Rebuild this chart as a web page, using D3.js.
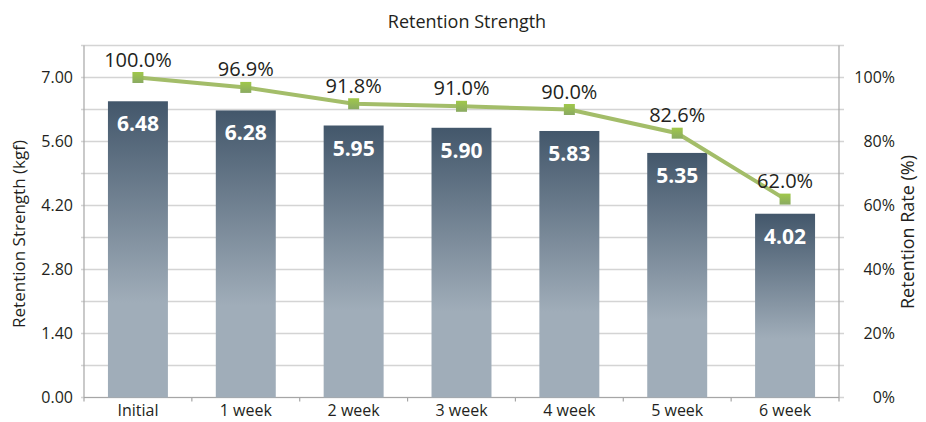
<!DOCTYPE html>
<html>
<head>
<meta charset="utf-8">
<script src="https://cdn.jsdelivr.net/npm/d3@7"></script>
<style>
  html, body { margin: 0; padding: 0; background: #fff; }
  svg { display: block; font-family: "Open Sans", "Noto Sans", sans-serif; }
</style>
</head>
<body>
<svg id="chart" width="926" height="422"></svg>
<script>
const categories = ["Initial", "1 week", "2 week", "3 week", "4 week", "5 week", "6 week"];
const strengthValues = [6.48, 6.28, 5.95, 5.90, 5.83, 5.35, 4.02];
const rateValues = [100.0, 96.9, 91.8, 91.0, 90.0, 82.6, 62.0];
const leftTicks = [0, 1.4, 2.8, 4.2, 5.6, 7.0];
const gridValues = [0, 0.7, 1.4, 2.1, 2.8, 3.5, 4.2, 4.9, 5.6, 6.3, 7.0, 7.7];
const rightTicks = [0, 20, 40, 60, 80, 100];

const svg = d3.select("#chart");
const m = { left: 84, right: 839, top: 45.5, bottom: 397.5 };
const textColor = "#231f20";

const x = d3.scaleBand().domain(categories).range([m.left, m.right]).paddingInner(0.444).paddingOuter(0.222);
const y = d3.scaleLinear().domain([0, 7.7]).range([m.bottom, m.top]);
const y2 = d3.scaleLinear().domain([0, 110]).range([m.bottom, m.top]);

// gradients
const defs = svg.append("defs");
const g1 = defs.append("linearGradient").attr("id", "barGrad").attr("x1", 0).attr("y1", 0).attr("x2", 0).attr("y2", 1);
g1.append("stop").attr("offset", "0%").attr("stop-color", "#43576b");
g1.append("stop").attr("offset", "68%").attr("stop-color", "#a0adb9");
g1.append("stop").attr("offset", "100%").attr("stop-color", "#a0adb9");
const g2 = defs.append("linearGradient").attr("id", "mkGrad").attr("x1", 0).attr("y1", 0).attr("x2", 0).attr("y2", 1);
g2.append("stop").attr("offset", "0%").attr("stop-color", "#a0c84a");
g2.append("stop").attr("offset", "100%").attr("stop-color", "#8aaa62");

// gridlines
svg.append("g").selectAll("line").data(gridValues).join("line")
  .attr("x1", m.left - 3).attr("x2", m.right + 5)
  .attr("y1", d => y(d)).attr("y2", d => y(d))
  .attr("stroke", "#d4d4d4").attr("stroke-width", 1.3);

// axes lines
const axisColor = "#a6a6a6";
svg.append("line").attr("x1", m.left).attr("x2", m.left).attr("y1", m.top).attr("y2", m.bottom).attr("stroke", axisColor).attr("stroke-width", 1.2);
svg.append("line").attr("x1", m.right).attr("x2", m.right).attr("y1", m.top).attr("y2", m.bottom).attr("stroke", axisColor).attr("stroke-width", 1.2);
svg.append("line").attr("x1", m.left).attr("x2", m.right).attr("y1", m.bottom).attr("y2", m.bottom).attr("stroke", axisColor).attr("stroke-width", 1.2);

// x tick marks at category boundaries
const boundaries = d3.range(categories.length + 1).map(i => m.left + i * (m.right - m.left) / categories.length);
svg.append("g").selectAll("line").data(boundaries).join("line")
  .attr("x1", d => d).attr("x2", d => d).attr("y1", m.bottom).attr("y2", m.bottom + 4)
  .attr("stroke", axisColor).attr("stroke-width", 1.2);

// bars
svg.append("g").selectAll("rect").data(strengthValues).join("rect")
  .attr("x", (d, i) => x(categories[i]))
  .attr("width", x.bandwidth())
  .attr("y", d => y(d))
  .attr("height", d => y(0) - y(d))
  .attr("fill", "url(#barGrad)");

// bar labels
svg.append("g").selectAll("text").data(strengthValues).join("text")
  .attr("x", (d, i) => x(categories[i]) + x.bandwidth() / 2)
  .attr("y", d => y(d) + 30)
  .attr("text-anchor", "middle")
  .attr("fill", "#ffffff")
  .attr("font-weight", "bold")
  .attr("font-size", 21)
  .text(d => d.toFixed(2));

// line
const cx = (i) => x(categories[i]) + x.bandwidth() / 2;
svg.append("path").datum(rateValues)
  .attr("d", d3.line().x((d, i) => cx(i)).y(d => y2(d)))
  .attr("fill", "none").attr("stroke", "#a3bd69").attr("stroke-width", 4);

svg.append("g").selectAll("rect").data(rateValues).join("rect")
  .attr("x", (d, i) => cx(i) - 5.5).attr("y", d => y2(d) - 5.5)
  .attr("width", 11).attr("height", 11)
  .attr("fill", "url(#mkGrad)");

svg.append("g").selectAll("text").data(rateValues).join("text")
  .attr("x", (d, i) => cx(i))
  .attr("y", d => y2(d) - 11)
  .attr("text-anchor", "middle")
  .attr("fill", textColor)
  .attr("font-size", 20)
  .text(d => d.toFixed(1) + "%");

// left tick labels
svg.append("g").selectAll("text").data(leftTicks).join("text")
  .attr("x", m.left - 11).attr("y", d => y(d)).attr("dy", "0.35em")
  .attr("text-anchor", "end").attr("fill", textColor).attr("font-size", 16)
  .text(d => d.toFixed(2));

// right tick labels
svg.append("g").selectAll("text").data(rightTicks).join("text")
  .attr("x", m.right + 56).attr("y", d => y2(d)).attr("dy", "0.35em")
  .attr("text-anchor", "end").attr("fill", textColor).attr("font-size", 16)
  .text(d => d + "%");

// x labels
svg.append("g").selectAll("text").data(categories).join("text")
  .attr("x", (d) => x(d) + x.bandwidth() / 2).attr("y", 416)
  .attr("text-anchor", "middle").attr("fill", textColor).attr("font-size", 16)
  .text(d => d);

// titles
svg.append("text").attr("x", 467).attr("y", 28).attr("text-anchor", "middle")
  .attr("fill", textColor).attr("font-size", 18).text("Retention Strength");
svg.append("text").attr("transform", `translate(25,234) rotate(-90)`)
  .attr("text-anchor", "middle").attr("fill", textColor).attr("font-size", 17)
  .text("Retention Strength (kgf)");
svg.append("text").attr("transform", `translate(914,232) rotate(-90)`)
  .attr("text-anchor", "middle").attr("fill", textColor).attr("font-size", 18)
  .text("Retention Rate (%)");
</script>
</body>
</html>
